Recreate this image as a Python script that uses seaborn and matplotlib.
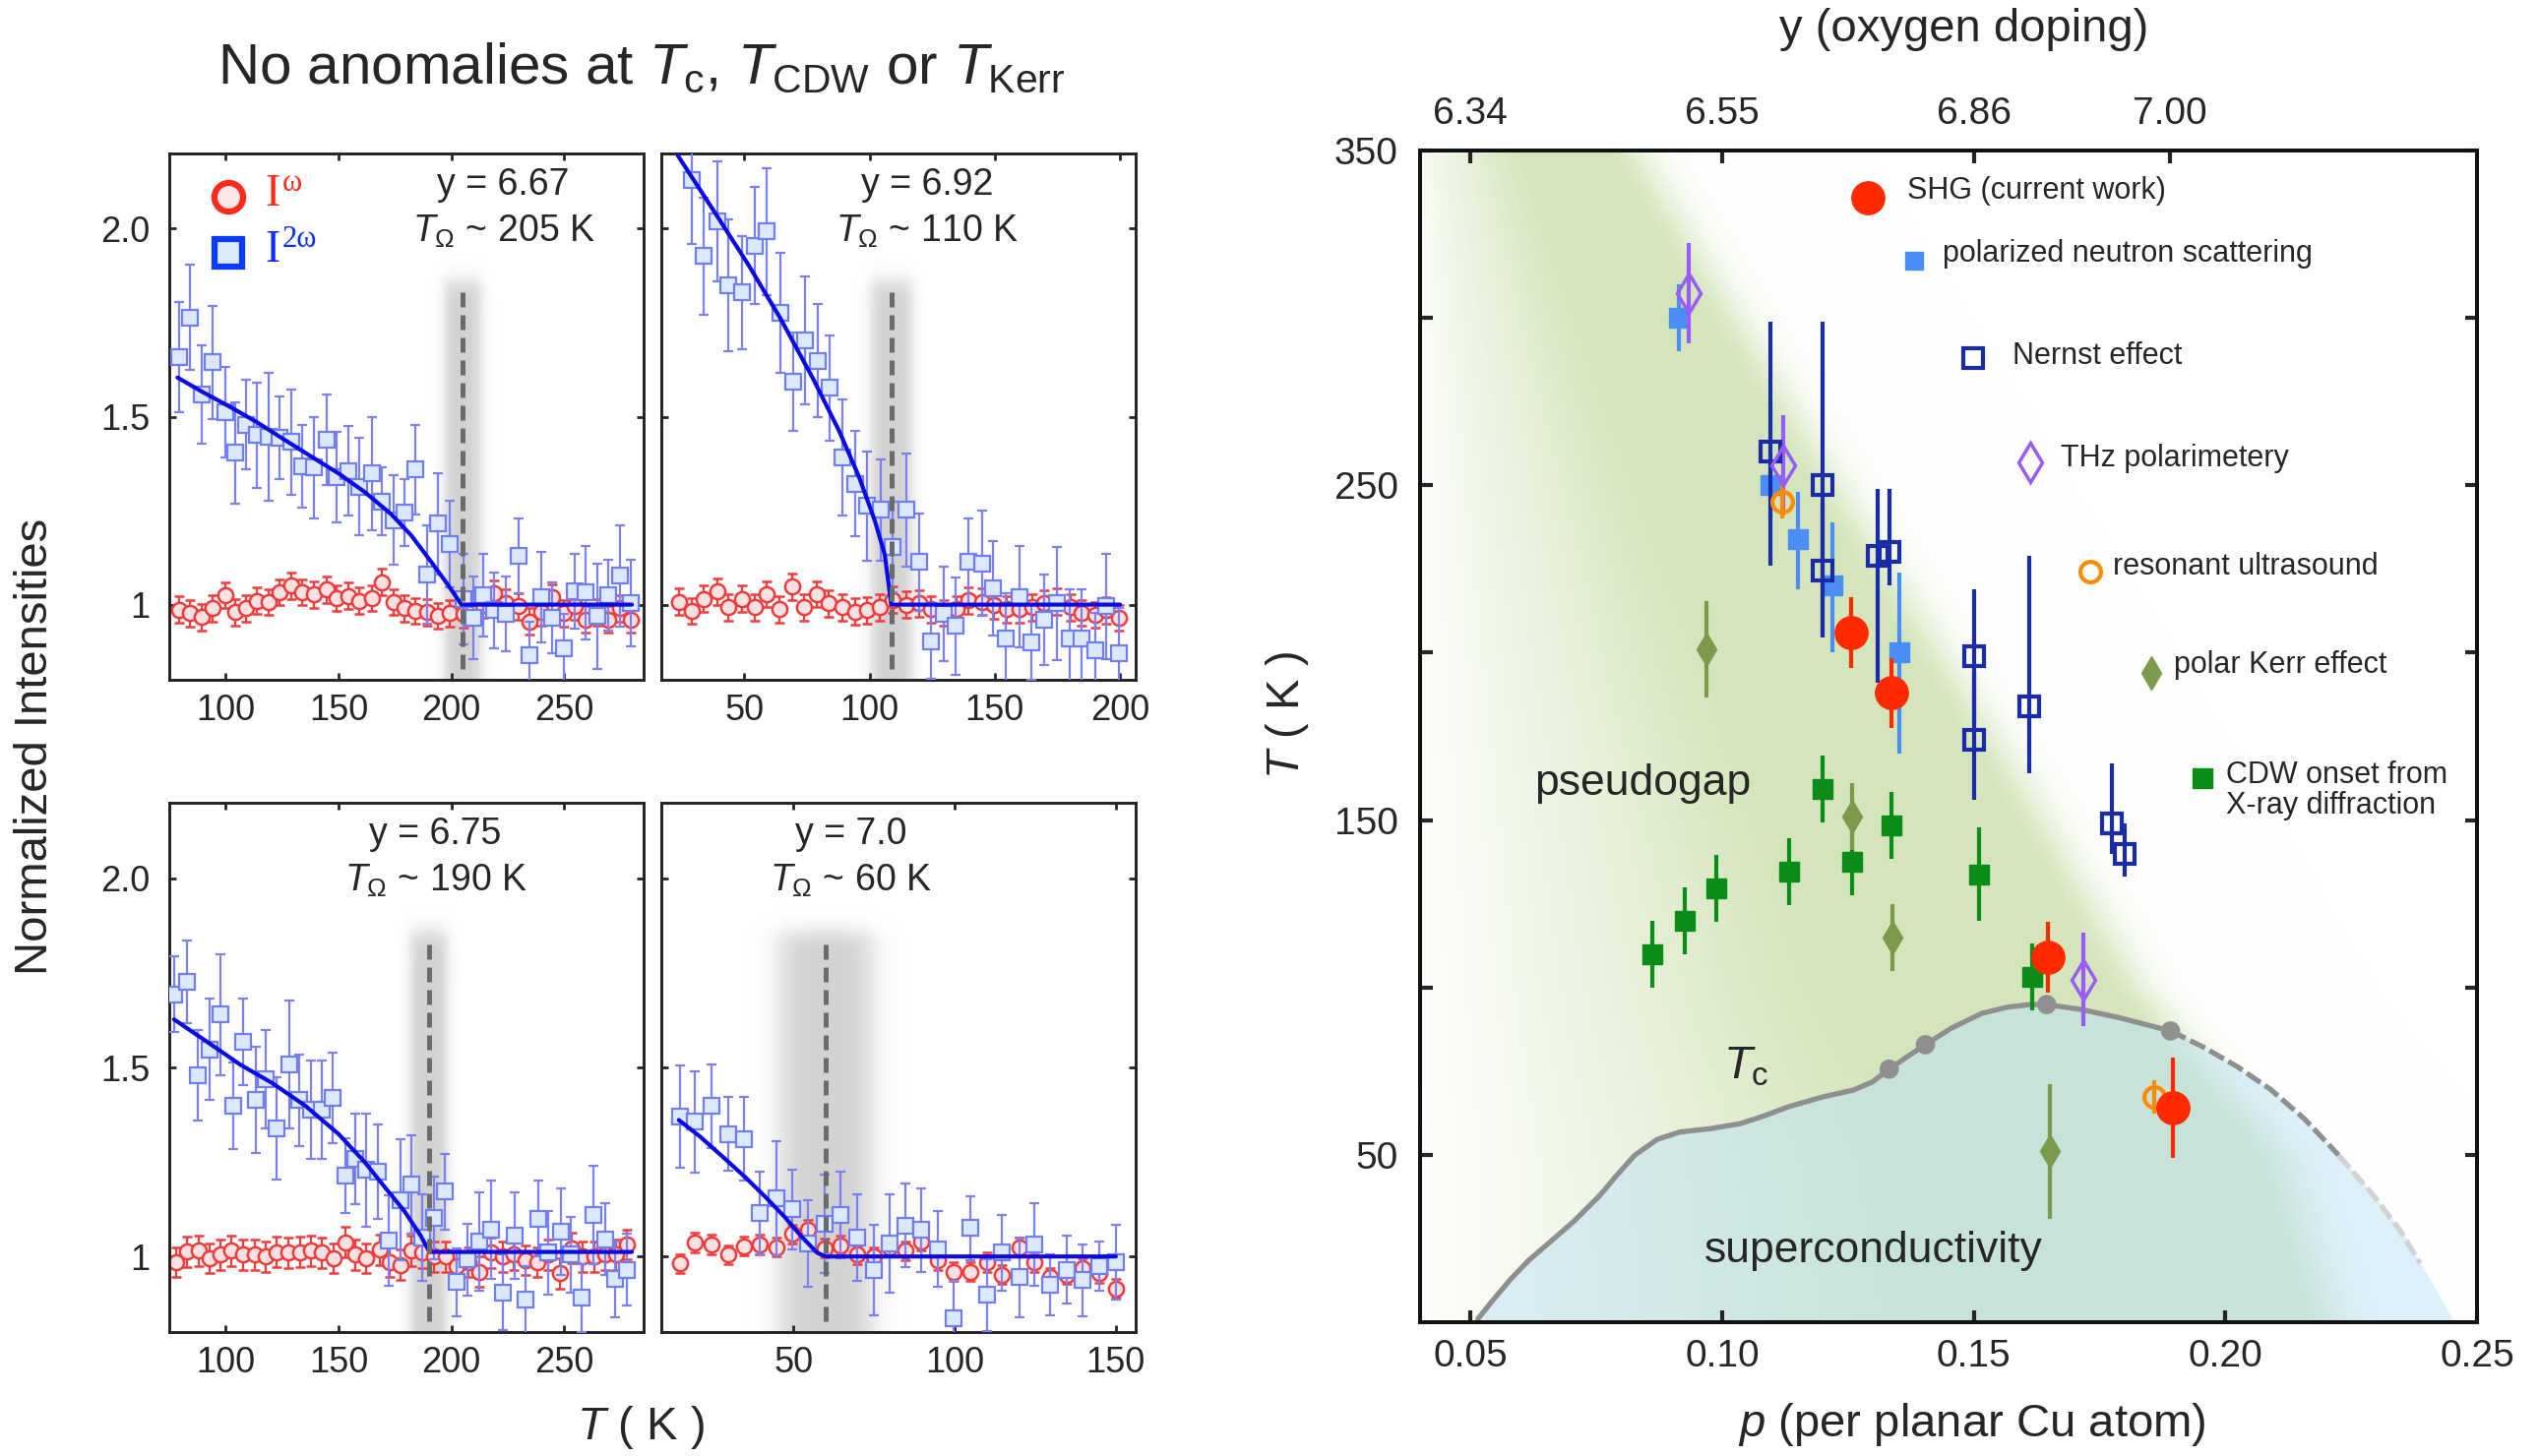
import numpy as np
import seaborn as sns
import matplotlib.pyplot as plt

sns.set_theme(style="ticks")
plt.rcParams["font.family"] = ["Liberation Sans", "DejaVu Sans"]
plt.rcParams["mathtext.fontset"] = "custom"
plt.rcParams["mathtext.rm"] = "Liberation Sans"
plt.rcParams["mathtext.it"] = "Liberation Sans:italic"
plt.rcParams["mathtext.bf"] = "Liberation Sans:bold"

# === SHG temperature scans (normalized intensities) ===
# y = 6.67
t_2w_a = [79.3, 84.0, 89.5, 94.2, 99.7, 104.1, 108.9, 113.6, 119.1, 123.8, 128.9, 134.0, 139.1, 144.6,
          149.3, 154.4, 159.1, 164.9, 169.3, 174.3, 179.2, 183.9, 189.4, 194.1, 199.4, 205.2, 209.6,
          214.2, 218.9, 224.2, 229.7, 234.7, 239.8, 244.6, 250.0, 254.8, 259.5, 264.6, 269.4, 274.8, 279.6]
i_2w_a = [1.659, 1.763, 1.559, 1.644, 1.512, 1.404, 1.479, 1.451, 1.446, 1.444, 1.432, 1.369, 1.364, 1.439,
          1.339, 1.356, 1.314, 1.349, 1.274, 1.225, 1.245, 1.359, 1.080, 1.215, 1.160, 1.015, 0.965,
          1.025, 0.985, 0.975, 1.130, 0.865, 1.020, 0.965, 0.885, 1.035, 1.032, 0.970, 1.025, 1.077, 1.005]
e_2w_a = [0.147, 0.14, 0.13, 0.15, 0.12, 0.135, 0.12, 0.14, 0.17, 0.11, 0.14, 0.11, 0.135, 0.12,
          0.12, 0.12, 0.13, 0.15, 0.09, 0.12, 0.09, 0.12, 0.13, 0.135, 0.115, 0.12, 0.11,
          0.11, 0.10, 0.10, 0.10, 0.09, 0.12, 0.095, 0.09, 0.10, 0.125, 0.14, 0.095, 0.135, 0.115]
t_w_a = t_2w_a
i_w_a = [0.987, 0.977, 0.967, 0.990, 1.025, 0.980, 0.990, 1.010, 1.007, 1.033, 1.050, 1.033, 1.027, 1.040,
         1.017, 1.023, 1.010, 1.017, 1.060, 1.007, 0.990, 0.983, 0.980, 0.970, 0.977, 0.975, 0.985,
         1.000, 1.030, 1.005, 0.995, 0.955, 0.980, 1.020, 0.977, 0.995, 0.960, 0.980, 0.960, 0.990, 0.960]
e_w_a = 0.035
fit_t_a = [78.6, 90.2, 101.9, 113.6, 126.7, 138.4, 150.0, 161.7, 173.4, 182.1, 190.9, 198.2, 204.5, 280.0]
fit_i_a = [1.604, 1.564, 1.526, 1.486, 1.436, 1.392, 1.349, 1.299, 1.240, 1.185, 1.115, 1.055, 1.0, 1.0]

# y = 6.92
t_2w_b = [29.2, 34.0, 39.2, 43.8, 49.2, 54.2, 59.0, 64.3, 69.4, 74.3, 79.5, 84.0, 89.2, 94.2, 99.0,
          104.5, 109.4, 114.8, 119.7, 124.5, 129.5, 134.4, 139.6, 144.8, 149.4, 154.4, 159.7, 164.5,
          169.7, 174.7, 179.7, 184.7, 189.9, 194.4, 199.4]
i_2w_b = [2.130, 1.927, 2.020, 1.850, 1.830, 1.955, 1.992, 1.776, 1.593, 1.703, 1.649, 1.576, 1.392,
          1.322, 1.262, 1.252, 1.153, 1.252, 1.113, 0.903, 0.975, 0.943, 1.113, 1.110, 1.043, 0.910,
          1.021, 0.900, 0.960, 1.003, 0.910, 0.910, 0.878, 0.995, 0.871]
e_2w_b = [0.17, 0.155, 0.16, 0.175, 0.15, 0.155, 0.17, 0.16, 0.13, 0.17, 0.15, 0.14, 0.155, 0.14, 0.145,
          0.135, 0.12, 0.15, 0.13, 0.10, 0.125, 0.13, 0.115, 0.14, 0.125, 0.12, 0.135, 0.10, 0.12, 0.15,
          0.13, 0.13, 0.10, 0.14, 0.12]
t_w_b = [24.0, 29.2, 34.0, 39.2, 43.8, 49.2, 54.2, 59.0, 63.9, 69.1, 73.9, 79.1, 83.8, 89.2, 94.2, 99.0,
         104.2, 109.4, 114.6, 119.7, 124.5, 129.5, 134.7, 139.6, 144.8, 149.6, 154.8, 160.0, 164.8,
         169.7, 174.9, 180.1, 184.7, 189.9, 194.4, 199.4]
i_w_b = [1.008, 0.983, 1.015, 1.035, 0.993, 1.015, 0.993, 1.028, 0.988, 1.048, 0.993, 1.028, 1.003,
         0.993, 0.981, 0.985, 0.993, 1.013, 1.000, 1.003, 0.988, 0.978, 0.988, 1.011, 1.008, 0.998,
         0.988, 0.988, 0.993, 1.003, 1.008, 0.993, 0.978, 0.973, 0.985, 0.965]
e_w_b = 0.035
fit_t_b = [23.6, 38.6, 51.6, 64.5, 77.5, 87.9, 95.7, 102.2, 106.1, 108.7, 200.0]
fit_i_b = [2.194, 2.040, 1.905, 1.761, 1.601, 1.462, 1.342, 1.222, 1.133, 1.0, 1.0]

# y = 6.75
t_2w_c = [77.1, 82.9, 87.6, 92.9, 97.5, 103.1, 107.7, 113.3, 117.6, 122.3, 128.1, 132.5, 137.6, 142.7,
          147.5, 152.9, 157.6, 162.4, 167.5, 172.2, 177.4, 182.1, 187.2, 192.3, 197.1, 202.5, 207.1,
          212.4, 217.8, 222.9, 228.0, 232.8, 238.6, 243.0, 248.4, 252.8, 257.9, 263.0, 268.1, 272.7, 278.0]
i_2w_c = [1.694, 1.727, 1.480, 1.548, 1.640, 1.398, 1.568, 1.415, 1.470, 1.339, 1.508, 1.413, 1.388,
          1.388, 1.420, 1.214, 1.259, 1.229, 1.224, 1.043, 1.149, 1.191, 1.050, 1.102, 1.171, 0.932,
          0.992, 1.040, 1.070, 0.905, 1.055, 0.885, 1.100, 1.010, 1.065, 1.005, 0.890, 1.110, 1.045,
          0.940, 0.965]
e_2w_c = [0.10, 0.11, 0.12, 0.135, 0.16, 0.115, 0.115, 0.14, 0.13, 0.135, 0.17, 0.12, 0.13, 0.13, 0.12,
          0.10, 0.12, 0.15, 0.125, 0.12, 0.16, 0.13, 0.115, 0.11, 0.10, 0.09, 0.095, 0.13, 0.13, 0.10,
          0.115, 0.09, 0.10, 0.11, 0.115, 0.10, 0.09, 0.13, 0.095, 0.10, 0.095]
t_w_c = [77.8, 82.9, 88.0, 92.7, 97.5, 102.6, 107.7, 112.8, 117.6, 122.3, 127.8, 132.8, 137.6, 142.7,
         147.8, 152.9, 157.6, 162.4, 168.2, 172.6, 177.4, 182.1, 187.2, 192.3, 197.4, 202.5, 207.6,
         212.4, 217.8, 222.9, 227.5, 232.8, 238.2, 243.0, 248.0, 253.5, 258.2, 263.4, 268.1, 273.2, 278.0]
i_w_c = [0.985, 1.013, 1.015, 0.995, 1.005, 1.015, 1.005, 1.005, 1.000, 1.012, 1.010, 1.012, 1.015,
         1.010, 0.995, 1.038, 1.005, 0.995, 1.018, 0.985, 0.978, 1.015, 1.010, 1.000, 1.000, 0.975,
         0.985, 0.960, 1.010, 1.000, 1.005, 0.990, 0.985, 1.005, 0.955, 1.022, 1.000, 1.000, 1.005,
         1.005, 1.032]
e_w_c = 0.04
fit_t_c = [77.1, 91.7, 106.3, 120.8, 135.4, 150.0, 161.7, 170.4, 179.2, 186.4, 190.3, 280.0]
fit_i_c = [1.627, 1.568, 1.508, 1.458, 1.398, 1.324, 1.249, 1.184, 1.120, 1.055, 1.012, 1.012]

# y = 7.0
t_2w_d = [14.7, 19.5, 24.5, 29.7, 34.6, 39.6, 44.7, 49.7, 54.4, 59.6, 64.6, 69.7, 74.9, 79.9, 84.7,
          89.5, 94.8, 99.8, 104.8, 109.9, 114.7, 120.0, 124.8, 129.5, 134.7, 139.7, 145.0, 150.0]
i_2w_d = [1.371, 1.356, 1.398, 1.324, 1.311, 1.115, 1.154, 1.125, 1.035, 1.087, 1.110, 1.050, 0.965,
          1.035, 1.082, 1.070, 1.020, 0.836, 1.075, 0.898, 1.010, 0.945, 1.032, 0.925, 0.965, 0.938,
          0.975, 0.985]
e_2w_d = [0.135, 0.135, 0.11, 0.097, 0.11, 0.11, 0.15, 0.105, 0.115, 0.13, 0.115, 0.115, 0.12, 0.13,
          0.11, 0.11, 0.10, 0.10, 0.085, 0.095, 0.10, 0.105, 0.11, 0.08, 0.09, 0.095, 0.065, 0.10]
t_w_d = t_2w_d
i_w_d = [0.982, 1.037, 1.032, 1.005, 1.027, 1.032, 1.025, 1.060, 1.072, 1.022, 1.030, 1.005, 1.000,
         1.025, 1.015, 1.040, 0.990, 0.960, 0.960, 0.985, 0.952, 1.025, 0.985, 0.945, 0.952, 0.970,
         0.955, 0.915]
e_w_d = 0.025
fit_t_d = [14.4, 21.0, 28.0, 35.1, 41.1, 47.2, 52.2, 57.3, 60.0, 150.0]
fit_i_d = [1.361, 1.317, 1.264, 1.209, 1.159, 1.105, 1.055, 1.010, 1.0, 1.0]

# === Phase diagram (p, T) ===
shg_p = [0.1256, 0.1337, 0.1647, 0.1896]
shg_t = [206, 188, 109, 64]
shg_lo = [10.5, 10.5, 10.5, 15]
shg_hi = [10.5, 10.5, 10.5, 15]

pns_p = [0.0915, 0.1096, 0.1151, 0.1220, 0.1353]
pns_t = [300, 250, 234, 220, 200]
pns_lo = [10, 10, 15, 20, 30]
pns_hi = [10, 10, 14, 19, 24]

nernst_p = [0.1097, 0.1199, 0.1199, 0.1309, 0.1333, 0.1500, 0.1500, 0.1611, 0.1775, 0.1800]
nernst_t = [260, 250, 224.6, 229, 230, 199, 174, 184, 149, 140]
nernst_lo = [34, 45, 20, 38, 10, 20, 18, 20, 9, 7]
nernst_hi = [39, 49, 20, 20, 19, 20, 20, 45, 18, 9]

thz_p = [0.0934, 0.1121, 0.1718]
thz_t = [307.5, 256, 102.4]
thz_err = [15, 15, 14]

rus_p = [0.112, 0.1859]
rus_t = [245, 67.2]
rus_err = [5, 5]

kerr_p = [0.0968, 0.1258, 0.1338, 0.1651]
kerr_t = [201, 151, 115, 51]
kerr_err = [14.5, 10, 10, 20]

cdw_p = [0.0862, 0.0926, 0.0989, 0.1134, 0.1199, 0.1259, 0.1336, 0.1511, 0.1616]
cdw_t = [110, 120, 129.6, 134.7, 159.2, 137.4, 148.5, 133.8, 103.1]
cdw_err = [10, 10, 10, 10, 10, 10, 10, 14, 10]

# Tc dome (solid part, dashed extrapolation, end of the shaded dome)
tc_p = [0.0515, 0.0541, 0.0579, 0.0616, 0.0654, 0.0706, 0.0758, 0.0788, 0.0826, 0.0871, 0.0916,
        0.0976, 0.1036, 0.1081, 0.1133, 0.1200, 0.1260, 0.1298, 0.1332, 0.1365, 0.1404, 0.1455,
        0.1515, 0.1566, 0.1613, 0.1645, 0.1714, 0.1788, 0.1891]
tc_t = [1.0, 5.9, 12.7, 18.5, 23.4, 30.2, 38.0, 43.4, 49.8, 54.6, 56.8, 57.8, 59.3, 61.5, 64.4, 67.3,
        69.3, 71.7, 75.6, 79.0, 82.9, 87.8, 92.2, 94.1, 94.9, 94.9, 93.4, 91.0, 87.0]
tc_dash_p = [0.1891, 0.1956, 0.2024, 0.2091, 0.2158, 0.2225, 0.2293, 0.2347, 0.2387]
tc_dash_t = [87.0, 82.2, 76.3, 69.4, 60.6, 49.9, 38.1, 27.4, 17.6]
dome_end_p = [0.2454]
dome_end_t = [0.0]
tc_dot_p = [0.1332, 0.1404, 0.1645, 0.1891]
tc_dot_t = [75.6, 82.9, 94.9, 87.0]

# pseudogap crossover edge (ascending T)
pg_edge_t = [0, 50, 100, 160, 250, 350]
pg_edge_p = [0.214, 0.204, 0.176, 0.153, 0.116, 0.076]

top_tick_p = [0.05, 0.10, 0.15, 0.189]
top_tick_lab = ["6.34", "6.55", "6.86", "7.00"]

fig = plt.figure(figsize=(25.8, 14.8), dpi=100)

BLUE_E = "#6f7ef2"
RED_E = "#f23c3c"


def add_band(ax, center, half, soft, xlim):
    xs = np.linspace(xlim[0], xlim[1], 500)
    ys = np.linspace(0.8, 2.2, 300)
    X, Y = np.meshgrid(xs, ys)
    px = 0.5 * (1 - np.tanh((np.abs(X - center) - half) / soft))
    py = 0.5 * (1 - np.tanh((Y - 1.86) / 0.03))
    img = np.zeros(X.shape + (4,))
    img[..., :3] = 0.58
    img[..., 3] = 0.42 * px * py
    ax.imshow(img, extent=[xlim[0], xlim[1], 0.8, 2.2], origin="lower",
              aspect="auto", interpolation="bilinear", zorder=0)


def draw_panel(ax, t2, i2, e2, t1, i1, e1, ft, fi, t_om, half, soft, xlim, xticks,
               ylab, tlab, tx, left_labels):
    add_band(ax, t_om, half, soft, xlim)
    ax.errorbar(t1, i1, yerr=e1, fmt="o", ms=11, mfc="#fbe1e1", mec=RED_E, mew=1.8,
                ecolor=RED_E, elinewidth=1.6, capsize=3.5, capthick=1.6, zorder=2)
    ax.errorbar(t2, i2, yerr=e2, fmt="s", ms=11, mfc="#dce8fb", mec=BLUE_E, mew=1.6,
                ecolor="#7b80f4", elinewidth=1.6, capsize=3.5, capthick=1.6, zorder=3)
    sns.lineplot(x=ft, y=fi, ax=ax, color="#0a0ae6", lw=3, sort=False, estimator=None, zorder=4)
    ax.axvline(t_om, ymin=0.02, ymax=0.743, color="#6b6b6b", lw=3.6, ls=(0, (3, 1.6)), zorder=5)
    ax.set_xlim(*xlim)
    ax.set_ylim(0.8, 2.2)
    ax.set_xticks(xticks)
    ax.set_yticks([1.0, 1.5, 2.0])
    ax.set_yticklabels(["1", "1.5", "2.0"])
    ax.tick_params(direction="in", top=True, right=True, length=5, width=2,
                   labelsize=26, labelleft=left_labels, pad=10)
    ax.tick_params(axis="y", pad=14)
    for s in ax.spines.values():
        s.set_linewidth(2.1)
        s.set_color("#222222")
    ax.text(tx, 0.941, ylab, transform=ax.transAxes, ha="center", va="center", fontsize=27)
    ax.text(tx, 0.852, tlab, transform=ax.transAxes, ha="center", va="center", fontsize=27)
    ax.set_xlabel("")
    ax.set_ylabel("")


ax_a = fig.add_axes([0.0667, 0.5331, 0.1866, 0.3615])
ax_b = fig.add_axes([0.2605, 0.5331, 0.1866, 0.3615])
ax_c = fig.add_axes([0.0667, 0.0851, 0.1866, 0.3635])
ax_d = fig.add_axes([0.2605, 0.0851, 0.1866, 0.3635])

draw_panel(ax_a, t_2w_a, i_2w_a, e_2w_a, t_w_a, i_w_a, e_w_a, fit_t_a, fit_i_a, 205, 8, 3,
           (75, 285), [100, 150, 200, 250], "y = 6.67", r"$T_{\Omega}$ ~ 205 K", 0.705, True)
draw_panel(ax_b, t_2w_b, i_2w_b, e_2w_b, t_w_b, i_w_b, e_w_b, fit_t_b, fit_i_b, 108.7, 8, 3,
           (17, 206), [50, 100, 150, 200], "y = 6.92", r"$T_{\Omega}$ ~ 110 K", 0.56, False)
draw_panel(ax_c, t_2w_c, i_2w_c, e_2w_c, t_w_c, i_w_c, e_w_c, fit_t_c, fit_i_c, 190, 8, 3,
           (75, 285), [100, 150, 200, 250], "y = 6.75", r"$T_{\Omega}$ ~ 190 K", 0.562, True)
draw_panel(ax_d, t_2w_d, i_2w_d, e_2w_d, t_w_d, i_w_d, e_w_d, fit_t_d, fit_i_d, 60, 14, 5,
           (9, 156), [50, 100, 150], "y = 7.0", r"$T_{\Omega}$ ~ 60 K", 0.40, False)

# legend of the first panel
ax_a.plot([0.125], [0.918], transform=ax_a.transAxes, marker="o", ms=21, mfc="#fde6e6",
          mec="#ff2a1a", mew=4.5, ls="none", zorder=6)
ax_a.plot([0.125], [0.811], transform=ax_a.transAxes, marker="s", ms=20, mfc="#dce9fb",
          mec="#0a3cff", mew=4.5, ls="none", zorder=6)
serif = ["Liberation Serif", "DejaVu Serif"]
for base_y, sup, col in [(0.9016, "\u03c9", "#ff2a1a"), (0.7945, "2\u03c9", "#0a2cff")]:
    ax_a.text(0.203, base_y, "I", transform=ax_a.transAxes, color=col, fontsize=33,
              family=serif, va="baseline", ha="left")
    ax_a.text(0.238, base_y + 0.027, sup, transform=ax_a.transAxes, color=col, fontsize=22,
              family=serif, va="baseline", ha="left")

fig.text(0.2525, 0.953, r"No anomalies at $T_{\mathrm{c}}$, $T_{\mathrm{CDW}}$ or $T_{\mathrm{Kerr}}$",
         ha="center", va="center", fontsize=42)
fig.text(0.014, 0.487, "Normalized Intensities", rotation=90, ha="center", va="center", fontsize=34)
fig.text(0.2525, 0.0196, r"$T$ ( K )", ha="center", va="center", fontsize=34)

# === right panel: phase diagram ===
axr = fig.add_axes([0.5593, 0.0919, 0.4163, 0.8047])

dome_p = tc_p + tc_dash_p[1:] + dome_end_p
dome_t = tc_t + tc_dash_t[1:] + dome_end_t

# background: pseudogap (green), superconducting dome (blue), overlap (teal)
pp = np.linspace(0.04, 0.25, 1100)
tt = np.linspace(0, 350, 900)
P, TT = np.meshgrid(pp, tt)
edge = np.interp(TT, pg_edge_t, pg_edge_p)
ramp = np.clip((P - 0.036) / (0.6 * (edge - 0.036)), 0, 1)
fall = np.exp(-(np.clip(P - edge, 0, None) / 0.009) ** 2)
g = (0.95 * ramp * fall)[..., None]
dome_top = np.interp(P, dome_p, dome_t, left=0, right=0)
d = (TT <= dome_top).astype(float)[..., None]
c_white = np.array([1.0, 1.0, 1.0])
c_green = np.array([210, 228, 184]) / 255
c_blue = np.array([222, 240, 250]) / 255
c_teal = np.array([198, 226, 213]) / 255
bg = (c_white * (1 - g) * (1 - d) + c_green * g * (1 - d)
      + c_blue * (1 - g) * d + c_teal * g * d)
axr.imshow(bg, extent=[0.04, 0.25, 0, 350], origin="lower", aspect="auto",
           interpolation="antialiased", zorder=0)

sns.lineplot(x=tc_p, y=tc_t, ax=axr, color="#8f8f8f", lw=3.8, sort=False, estimator=None, zorder=2)
sns.lineplot(x=tc_dash_p[:6], y=tc_dash_t[:6], ax=axr, color="#8f8f8f", lw=3.8, sort=False,
             estimator=None, zorder=2, linestyle=(0, (3.2, 1.0)))
sns.lineplot(x=tc_dash_p[5:], y=tc_dash_t[5:], ax=axr, color="#d2d2d2", lw=3.8, sort=False,
             estimator=None, zorder=2, linestyle=(0, (3.2, 1.0)))
sns.scatterplot(x=tc_dot_p, y=tc_dot_t, ax=axr, s=200, color="#8f8f8f", edgecolor="none", zorder=3)

eb = dict(ls="none", elinewidth=3, capsize=0)
axr.errorbar(cdw_p, cdw_t, yerr=cdw_err, fmt="s", ms=15, color="#0a8c18", zorder=4, **eb)
axr.errorbar(kerr_p, kerr_t, yerr=kerr_err, fmt="d", ms=17, color="#7b9a4a", zorder=4, **eb)
axr.errorbar(pns_p, pns_t, yerr=[pns_lo, pns_hi], fmt="s", ms=15, color="#4b8ef7", zorder=4, **eb)
axr.errorbar(nernst_p, nernst_t, yerr=[nernst_lo, nernst_hi], fmt="s", ms=15, mfc="none",
             mec="#1a2ca6", mew=3, ecolor="#1a2ca6", zorder=5, **eb)
axr.errorbar(thz_p, thz_t, yerr=thz_err, fmt="d", ms=20, mfc="none", mec="#9a5cf7", mew=2.5,
             ecolor="#9a5cf7", zorder=5, **eb)
axr.errorbar(rus_p, rus_t, yerr=rus_err, fmt="o", ms=15, mfc="none", mec="#ff8a00", mew=3,
             ecolor="#ff8a00", zorder=5, **eb)
axr.errorbar(shg_p, shg_t, yerr=[shg_lo, shg_hi], fmt="o", ms=24, color="#ff2a00", zorder=6, **eb)

# staircase legend (axes fraction positions: marker x, marker y, text x, text y)
legend_items = [
    ("SHG (current work)", 0.4238, 0.960, 0.461, 0.9655, dict(marker="o", ms=24, color="#ff2a00")),
    ("polarized neutron scattering", 0.4676, 0.906, 0.4946, 0.9116,
     dict(marker="s", ms=13, color="#4b8ef7")),
    ("Nernst effect", 0.5233, 0.823, 0.5605, 0.8246,
     dict(marker="s", ms=15, mfc="none", mec="#1a2ca6", mew=3)),
    ("THz polarimetery", 0.5771, 0.734, 0.606, 0.7376,
     dict(marker="d", ms=20, mfc="none", mec="#9a5cf7", mew=2.5)),
    ("resonant ultrasound", 0.6343, 0.641, 0.6554, 0.645,
     dict(marker="o", ms=15, mfc="none", mec="#ff8a00", mew=3)),
    ("polar Kerr effect", 0.6914, 0.554, 0.7136, 0.5608, dict(marker="d", ms=17, color="#7b9a4a")),
    ("CDW onset from\nX-ray diffraction", 0.7405, 0.464, 0.7626, 0.4537,
     dict(marker="s", ms=15, color="#0a8c18")),
]
for lab, mx, my, tx, ty, st in legend_items:
    axr.plot([mx], [my], transform=axr.transAxes, ls="none", zorder=7, **st)
    axr.text(tx, ty, lab, transform=axr.transAxes, ha="left", va="center",
             fontsize=22, linespacing=1.05, zorder=7)

axr.text(0.0843, 157.5, "pseudogap", ha="center", va="baseline", fontsize=32, zorder=7)
axr.text(0.130, 17.9, "superconductivity", ha="center", va="baseline", fontsize=32, zorder=7)
axr.text(0.1003, 72.7, r"$T_{\mathrm{c}}$", ha="left", va="baseline", fontsize=34, zorder=7)

axr.set_xlim(0.04, 0.25)
axr.set_ylim(0, 350)
axr.set_xticks([0.05, 0.10, 0.15, 0.20, 0.25])
axr.set_xticklabels(["0.05", "0.10", "0.15", "0.20", "0.25"])
axr.set_yticks([50, 150, 250, 350])
axr.set_yticks([100, 200, 300], minor=True)
axr.tick_params(which="both", direction="in", top=False, right=True, length=9, width=3,
                labelsize=28)
axr.tick_params(axis="x", pad=12)
axr.tick_params(axis="y", pad=16)
axr.set_xlabel("")
axr.set_ylabel("")
for s in axr.spines.values():
    s.set_linewidth(2.8)
    s.set_color("#111111")

axt = axr.twiny()
axt.set_xlim(0.04, 0.25)
axt.set_xticks(top_tick_p)
axt.set_xticklabels(top_tick_lab)
axt.tick_params(direction="in", length=9, width=3, labelsize=28, pad=14)
for s in axt.spines.values():
    s.set_linewidth(2.8)
    s.set_color("#111111")

fig.text(0.507, 0.509, r"$T$ ( K )", rotation=90, ha="center", va="center", fontsize=34)
fig.text(0.7767, 0.0216, r"$p$ (per planar Cu atom)", ha="center", va="center", fontsize=34)
fig.text(0.7736, 0.980, "y (oxygen doping)", ha="center", va="center", fontsize=34)

fig.savefig("out.png", dpi=100)
